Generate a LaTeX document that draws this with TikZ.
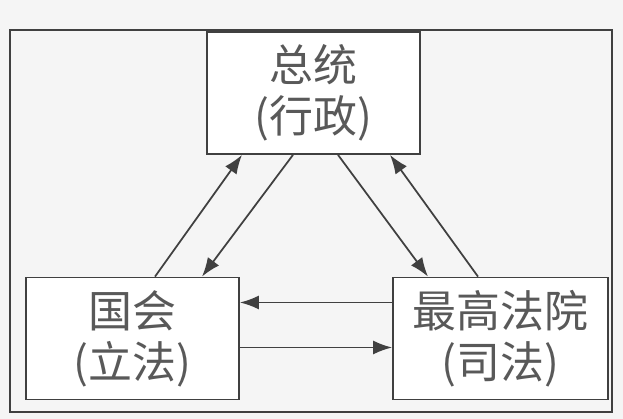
\documentclass[tikz,border=0pt]{standalone}
\usepackage{fontspec}
\newfontfamily\cjk{Noto Sans CJK SC}
\usepackage{tikz}
\usetikzlibrary{arrows.meta}

\begin{document}
\begin{tikzpicture}[
    branch/.style={draw=black!75, line width=1pt, fill=white, align=center,
        minimum width=4.26cm, minimum height=2.44cm, inner sep=0pt,
        text=black!65, font=\cjk\fontsize{25}{29}\selectfont},
    link/.style={draw=black!75, line width=1pt, -{Latex[length=3.8mm,width=2.8mm]}}]
             \useasboundingbox (0, 0) rectangle (12.46, 8.38);
             \fill[black!4] (0, 0) rectangle (12.46, 8.38);
             \draw[black!75, line width=1pt] (.2, .14) rectangle (12.24, 7.78);

             \node[branch] (pres) at (6.27, 6.52) {总统\\(行政)};
             \node[branch] (cong) at (2.65, 1.61) {国会\\(立法)};
             \node[branch, minimum width=4.3cm] (court) at (10.01, 1.61) {最高法院\\(司法)};

             \draw[link] ([xshift=.45cm]cong.north) -- ([xshift=-1.43cm]pres.south);
             \draw[link] ([xshift=-.41cm]pres.south) -- ([xshift=1.39cm]cong.north);

             \draw[link] ([xshift=.49cm]pres.south) -- ([xshift=-1.45cm]court.north);
             \draw[link] ([xshift=-.45cm]court.north) -- ([xshift=1.53cm]pres.south);

             \draw[link] ([yshift=.72cm]court.west) -- ([yshift=.72cm]cong.east);
             \draw[link] ([yshift=-.18cm]cong.east) -- ([yshift=-.18cm]court.west);
             \end{tikzpicture}
\end{document}
